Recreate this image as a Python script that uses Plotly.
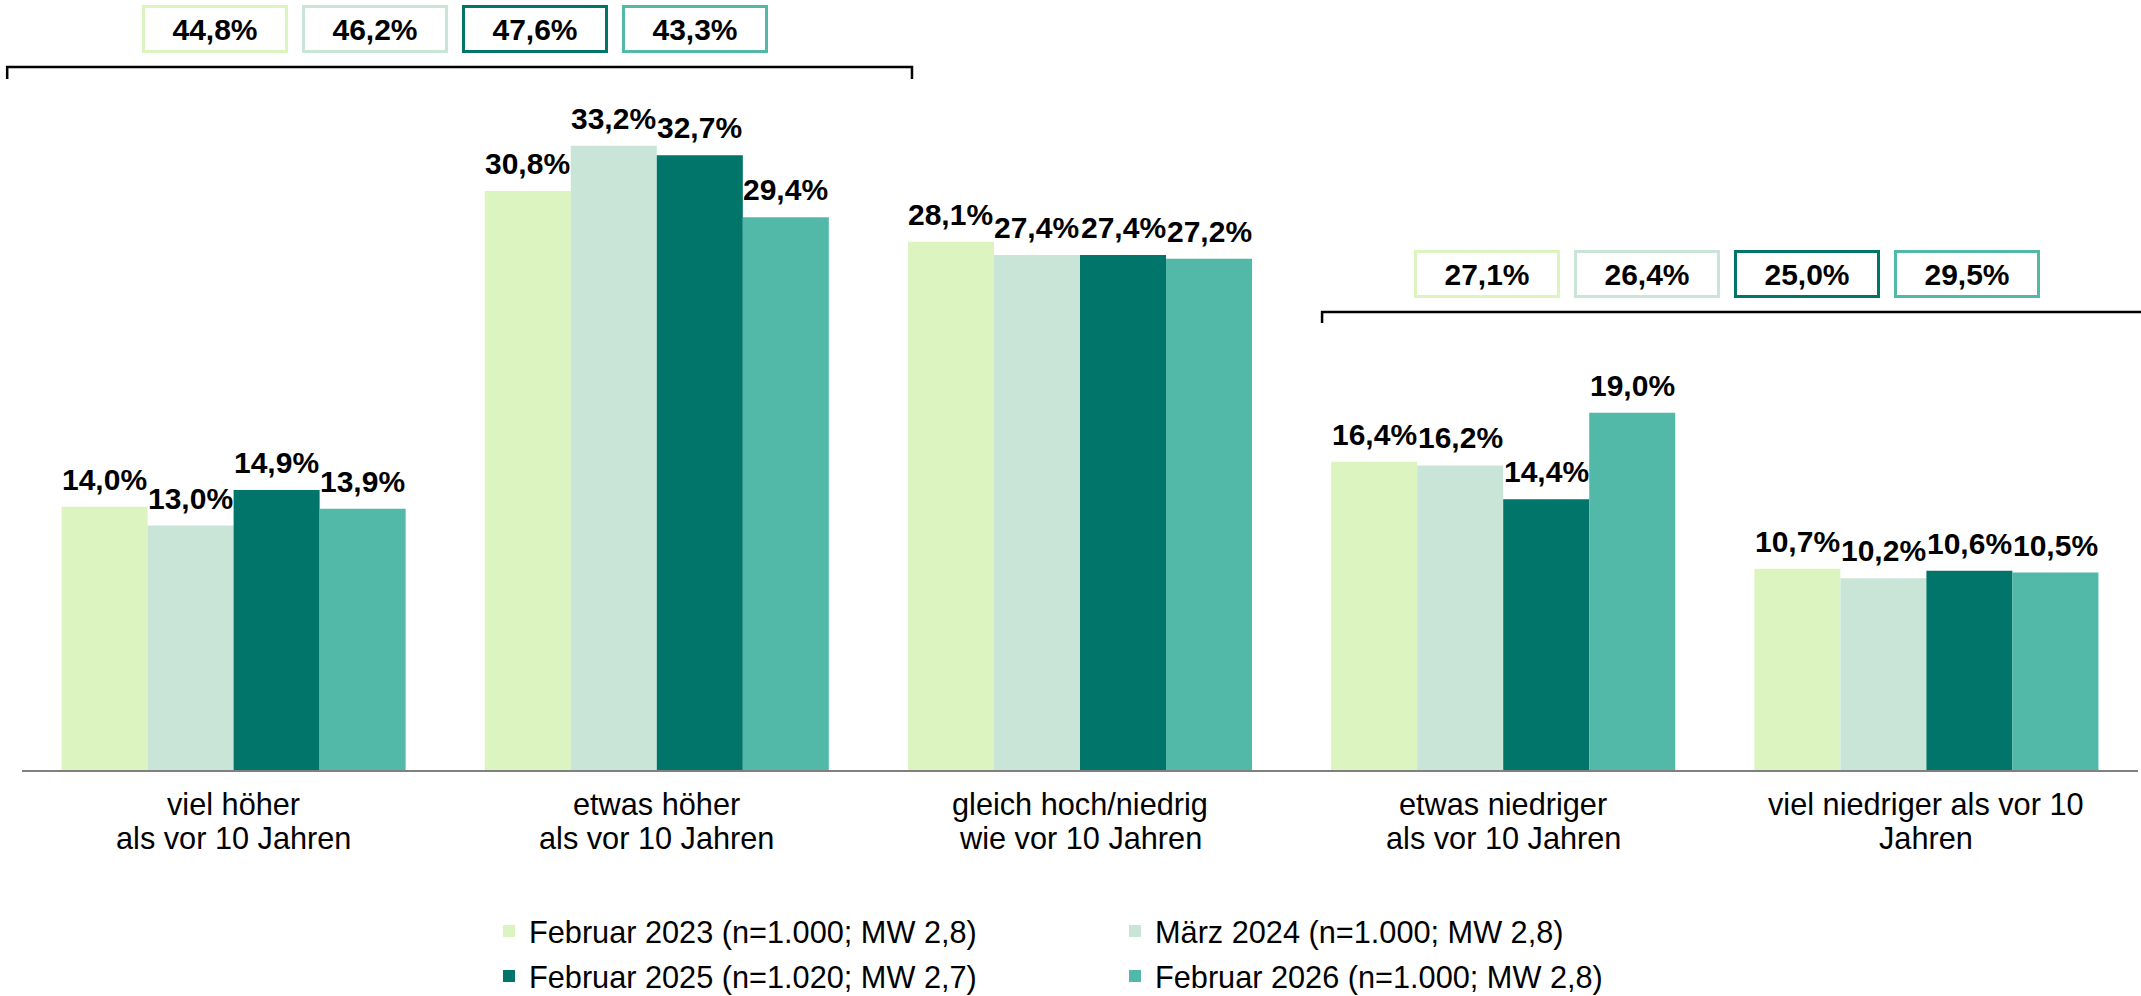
import plotly.graph_objects as go

# Answer categories (two text lines each)
categories = [
    ("viel höher", "als vor 10 Jahren"),
    ("etwas höher", "als vor 10 Jahren"),
    ("gleich hoch/niedrig", "wie vor 10 Jahren"),
    ("etwas niedriger", "als vor 10 Jahren"),
    ("viel niedriger als vor 10", "Jahren"),
]

# Survey waves
series_names = [
    "Februar 2023 (n=1.000; MW 2,8)",
    "März 2024 (n=1.000; MW 2,8)",
    "Februar 2025 (n=1.020; MW 2,7)",
    "Februar 2026 (n=1.000; MW 2,8)",
]
feb_2023 = [14.0, 30.8, 28.1, 16.4, 10.7]
mar_2024 = [13.0, 33.2, 27.4, 16.2, 10.2]
feb_2025 = [14.9, 32.7, 27.4, 14.4, 10.6]
feb_2026 = [13.9, 29.4, 27.2, 19.0, 10.5]
series_values = [feb_2023, mar_2024, feb_2025, feb_2026]

colors = ["#DCF4C0", "#C8E5D8", "#02756A", "#52B9A9"]

# Summary boxes: categories that are added together
summary_groups = [[0, 1], [3, 4]]

FONT = "Liberation Sans, Arial, sans-serif"

W, H = 2141, 996
M_L, M_R, M_T, M_B = 22, 3, 0, 226
PLOT_W = W - M_L - M_R
PLOT_H = H - M_T - M_B
PX_PER_PCT = 18.8
Y_MAX = PLOT_H / PX_PER_PCT
BARGAP = 0.187
N_SER = len(series_values)
BAR_W = (1 - BARGAP) / N_SER


def fmt(v):
    return f"{v:.1f}".replace(".", ",") + "%"


def xpaper(u):
    # category-axis units -> paper fraction
    return (u + 0.5) / len(categories)


def ypaper_px(py):
    # pixel row (from top of page) -> paper fraction
    return (PLOT_H + M_T - py) / PLOT_H


fig = go.Figure()
xs = list(range(len(categories)))
legend_ids = ["legend", "legend2", "legend3", "legend4"]
for j, (name, vals, col) in enumerate(zip(series_names, series_values, colors)):
    fig.add_trace(go.Bar(
        x=xs, y=vals, name=name, marker=dict(color=col, line=dict(width=0)),
        legend=legend_ids[j], showlegend=True, hoverinfo="skip",
    ))

annotations = []

# value labels above bars
for j, vals in enumerate(series_values):
    for i, v in enumerate(vals):
        annotations.append(dict(
            x=i + (j - (N_SER - 1) / 2) * BAR_W, y=v, xref="x", yref="y",
            text=fmt(v), showarrow=False, yanchor="bottom", yshift=9,
            font=dict(family=FONT, size=30, color="#000000", weight="bold"),
        ))

# category labels under the axis
for i, (l1, l2) in enumerate(categories):
    for k, (line, py) in enumerate(((l1, 804), (l2, 838))):
        annotations.append(dict(
            x=i, y=0, xref="x", yref="paper", text=line, showarrow=False,
            yanchor="middle", yshift=-(py - (M_T + PLOT_H)),
            font=dict(family=FONT, size=30.7, color="#000000"),
        ))

# summary boxes and brackets
box_rows = [
    dict(center=0.523, box_y=29, bracket=(-0.535, 1.603), bracket_y=67, tick=12),
    dict(center=3.529, box_y=274, bracket=(2.572, 4.52), bracket_y=312, tick=11),
]
shapes = []
for grp, row in zip(summary_groups, box_rows):
    for j, vals in enumerate(series_values):
        total = round(sum(vals[i] for i in grp), 1)
        annotations.append(dict(
            x=xpaper(row["center"]), y=ypaper_px(row["box_y"]), xref="paper", yref="paper",
            xshift=(j - (N_SER - 1) / 2) * 160, text=fmt(total), showarrow=False,
            xanchor="center", yanchor="middle", width=138, height=40, borderpad=1,
            bordercolor=colors[j], borderwidth=3, bgcolor="#FFFFFF",
            font=dict(family=FONT, size=30, color="#000000", weight="bold"),
        ))
    x0, x1 = xpaper(row["bracket"][0]), xpaper(row["bracket"][1])
    yb = ypaper_px(row["bracket_y"])
    yt = ypaper_px(row["bracket_y"] + row["tick"])
    shapes.append(dict(
        type="path", xref="paper", yref="paper",
        path=f"M {x0},{yt} L {x0},{yb} L {x1},{yb} L {x1},{yt}",
        line=dict(color="#000000", width=2.5),
    ))

# one legend per wave, laid out in two columns
legend_pos = [(489, 931), (1115, 931), (489, 976), (1115, 976)]
layout_legends = {}
for lid, (px, py) in zip(legend_ids, legend_pos):
    layout_legends[lid] = dict(
        x=(px - M_L) / PLOT_W, y=ypaper_px(py), xanchor="left", yanchor="middle",
        orientation="h", bgcolor="rgba(0,0,0,0)", borderwidth=0,
        font=dict(family=FONT, size=30.7, color="#000000"), itemwidth=30,
        visible=True,
    )

fig.update_layout(
    width=W, height=H,
    margin=dict(l=M_L, r=M_R, t=M_T, b=M_B, pad=0, autoexpand=False),
    paper_bgcolor="#FFFFFF", plot_bgcolor="#FFFFFF",
    showlegend=True,
    barmode="group", bargap=BARGAP, bargroupgap=0,
    xaxis=dict(range=[-0.5, len(categories) - 0.5], showgrid=False, zeroline=False,
               showticklabels=False, ticks="", showline=True,
               linecolor="#808080", linewidth=2, fixedrange=True),
    yaxis=dict(range=[0, Y_MAX], visible=False, fixedrange=True),
    annotations=annotations, shapes=shapes,
    font=dict(family=FONT),
    **layout_legends,
)

fig.write_html("out.html", config={"displayModeBar": False})
